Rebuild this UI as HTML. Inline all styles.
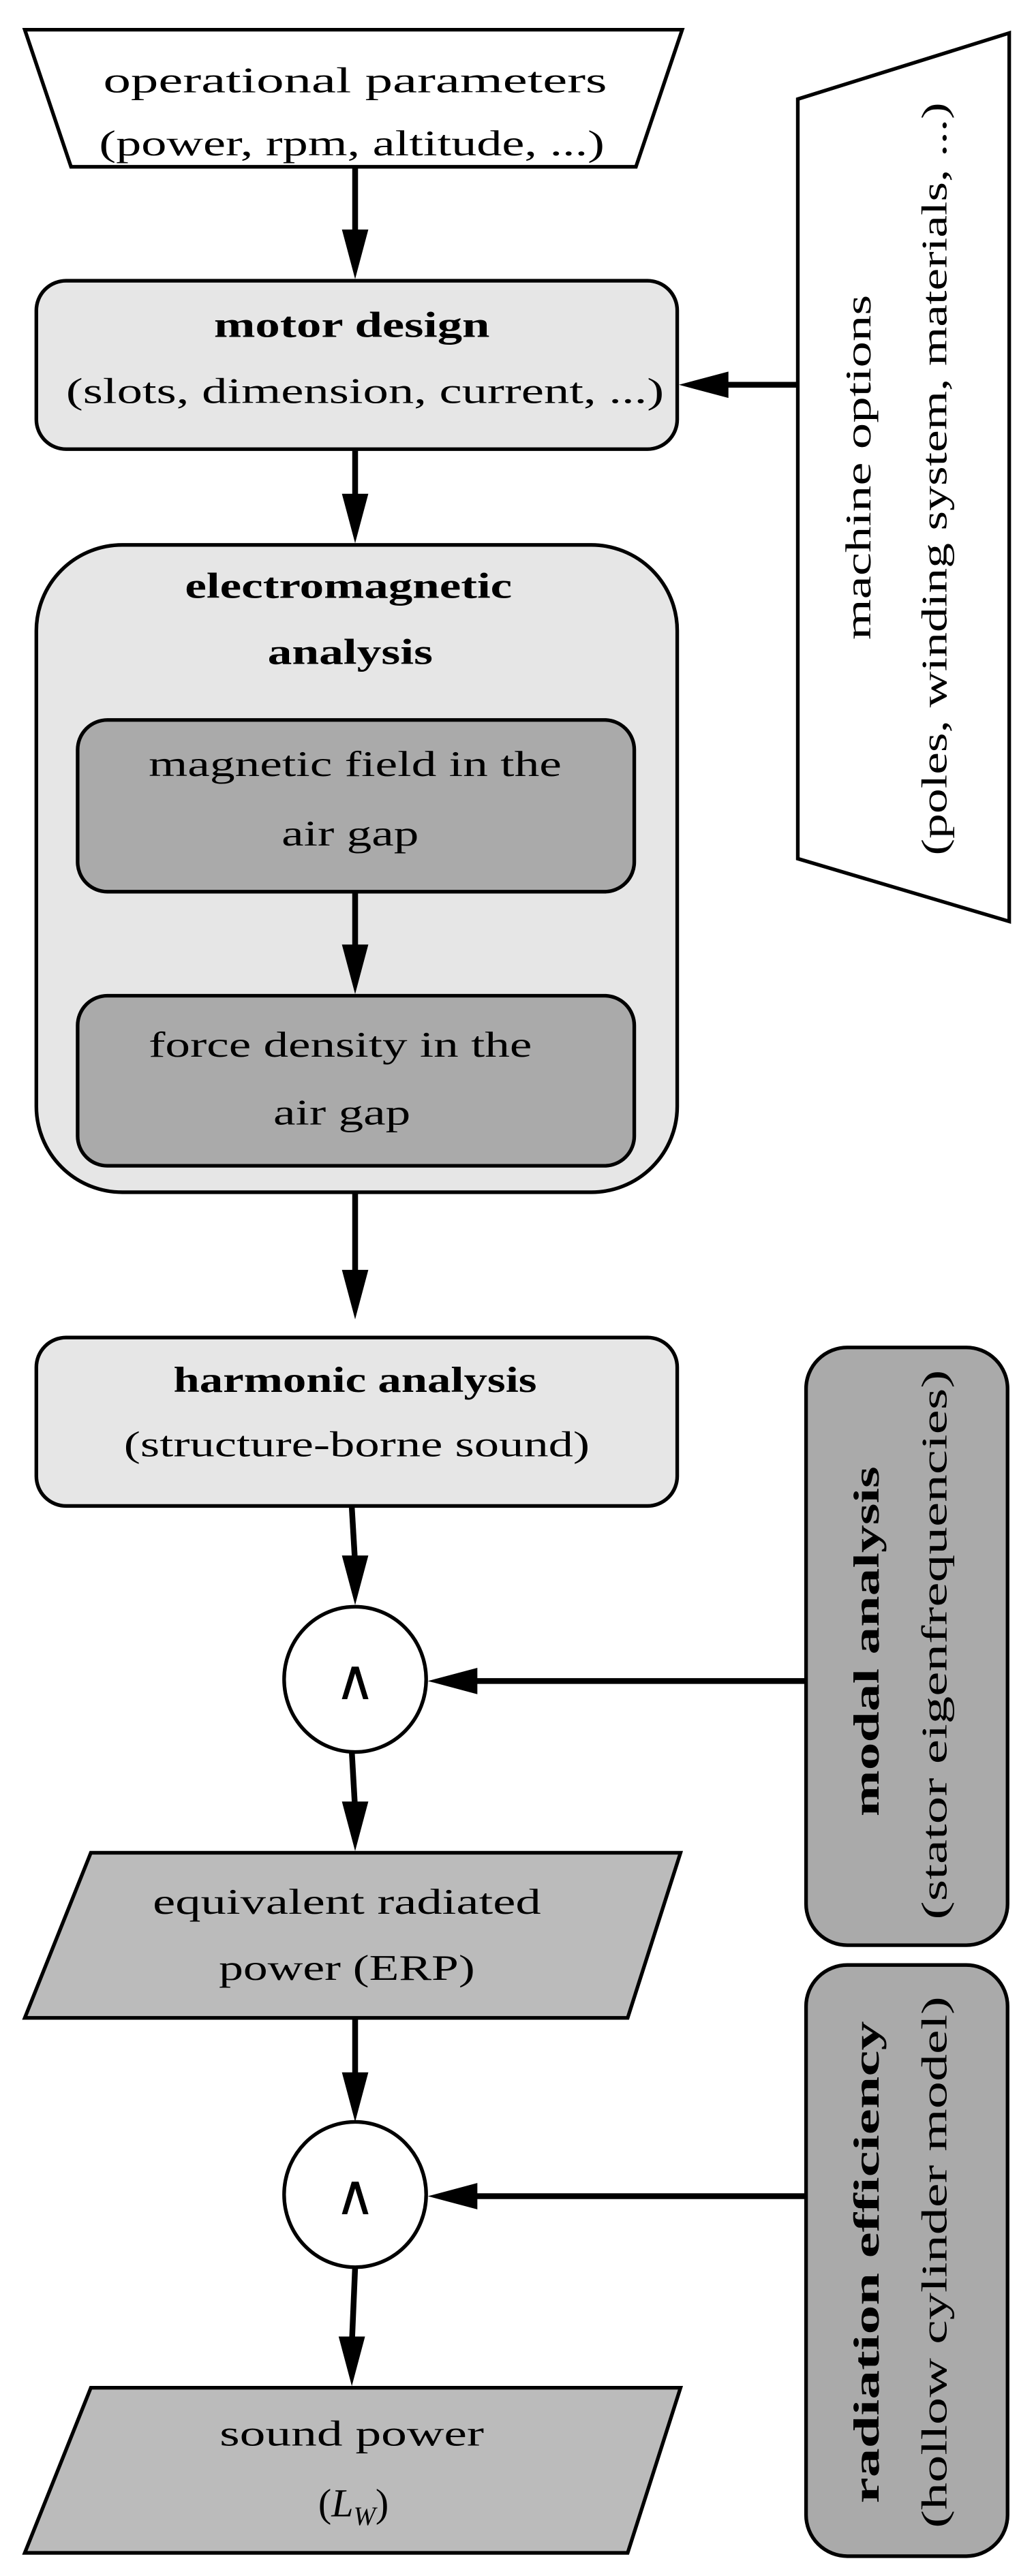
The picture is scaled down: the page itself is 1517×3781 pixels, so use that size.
<!DOCTYPE html>
<html><head><meta charset="utf-8"><style>
html,body{margin:0;padding:0;background:#fff;}
svg{display:block;}
text{font-family:"Liberation Serif",serif;font-size:22px;fill:#000;}
.b{font-weight:bold;}
</style></head><body>
<svg width="1517" height="3781" viewBox="0 0 626 1560" preserveAspectRatio="none" xmlns="http://www.w3.org/2000/svg">
<g stroke="#000" stroke-width="2.2">
<polygon points="15,18 413,18 385,101 43,101" fill="#fff"/>
<rect x="22" y="170" width="388" height="102" rx="18" fill="#e6e6e6"/>
<polygon points="483,60 611,20 611,558 483,520" fill="#fff"/>
<rect x="22" y="330" width="388" height="392" rx="52" fill="#e6e6e6"/>
<rect x="47" y="436" width="337" height="104" rx="18" fill="#aaaaaa"/>
<rect x="47" y="603" width="337" height="103" rx="18" fill="#aaaaaa"/>
<rect x="22" y="810" width="388" height="102" rx="18" fill="#e6e6e6"/>
<ellipse cx="215" cy="1017" rx="43" ry="44" fill="#fff"/>
<ellipse cx="215" cy="1329" rx="43" ry="44" fill="#fff"/>
<rect x="488" y="816" width="122" height="362" rx="25" fill="#aaaaaa"/>
<rect x="488" y="1190" width="122" height="358" rx="25" fill="#aaaaaa"/>
<polygon points="55,1122 412,1122 380,1222 15,1222" fill="#bbbbbb"/>
<polygon points="55,1446 412,1446 380,1546 15,1546" fill="#bbbbbb"/>
</g>
<g stroke="#000" stroke-width="3.5" fill="none">
<line x1="215" y1="102" x2="215" y2="145"/>
<line x1="483" y1="233" x2="435" y2="233"/>
<line x1="215" y1="273" x2="215" y2="305"/>
<line x1="215" y1="541" x2="215" y2="578"/>
<line x1="215" y1="723" x2="215" y2="775"/>
<line x1="213" y1="913" x2="215" y2="947"/>
<line x1="488" y1="1018" x2="283" y2="1018"/>
<line x1="213" y1="1061" x2="215" y2="1096"/>
<line x1="215" y1="1223" x2="215" y2="1260"/>
<line x1="488" y1="1330" x2="283" y2="1330"/>
<line x1="215" y1="1373" x2="213" y2="1420"/>
</g>
<g fill="#000">
<polygon points="207,139 223,139 215,169"/>
<polygon points="441,225 441,241 411,233"/>
<polygon points="207,299 223,299 215,329"/>
<polygon points="207,572 223,572 215,602"/>
<polygon points="207,769 223,769 215,799"/>
<polygon points="207,942 223,942 215,972"/>
<polygon points="289,1010 289,1026 259,1018"/>
<polygon points="207,1091 223,1091 215,1121"/>
<polygon points="207,1255 223,1255 215,1285"/>
<polygon points="289,1322 289,1338 259,1330"/>
<polygon points="205,1415 221,1415 213,1445"/>
</g>
<g text-anchor="middle">
<text x="215" y="56" textLength="305" lengthAdjust="spacingAndGlyphs">operational parameters</text>
<text x="213" y="94" textLength="306" lengthAdjust="spacingAndGlyphs">(power, rpm, altitude, ...)</text>
<text x="213" y="204" class="b" textLength="167" lengthAdjust="spacingAndGlyphs">motor design</text>
<text x="221" y="244" textLength="362" lengthAdjust="spacingAndGlyphs">(slots, dimension, current, ...)</text>
<text x="211" y="362" class="b" textLength="198" lengthAdjust="spacingAndGlyphs">electromagnetic</text>
<text x="212" y="402" class="b" textLength="100" lengthAdjust="spacingAndGlyphs">analysis</text>
<text x="215" y="470" textLength="250" lengthAdjust="spacingAndGlyphs">magnetic field in the</text>
<text x="212" y="512" textLength="83" lengthAdjust="spacingAndGlyphs">air gap</text>
<text x="206" y="640" textLength="232" lengthAdjust="spacingAndGlyphs">force density in the</text>
<text x="207" y="681" textLength="83" lengthAdjust="spacingAndGlyphs">air gap</text>
<text x="215" y="843" class="b" textLength="220" lengthAdjust="spacingAndGlyphs">harmonic analysis</text>
<text x="216" y="882" textLength="282" lengthAdjust="spacingAndGlyphs">(structure-borne sound)</text>
<text x="215" y="1029" style="font-size:34px;font-family:'DejaVu Sans',sans-serif;font-weight:200">∧</text>
<text x="215" y="1341" style="font-size:34px;font-family:'DejaVu Sans',sans-serif;font-weight:200">∧</text>
<text x="210" y="1159" textLength="235" lengthAdjust="spacingAndGlyphs">equivalent radiated</text>
<text x="210" y="1199" textLength="155" lengthAdjust="spacingAndGlyphs">power (ERP)</text>
<text x="213" y="1481" textLength="160" lengthAdjust="spacingAndGlyphs">sound power</text>
<text x="214" y="1524" style="font-size:24px">(<tspan style="font-style:italic">L</tspan><tspan style="font-style:italic;font-size:16px" dy="5">W</tspan><tspan dy="-5">)</tspan></text>
<text transform="translate(527,283) rotate(-90)" textLength="209" lengthAdjust="spacingAndGlyphs">machine options</text>
<text transform="translate(573,290) rotate(-90)" textLength="456" lengthAdjust="spacingAndGlyphs">(poles, winding system, materials, ...)</text>
<text transform="translate(532,994) rotate(-90)" class="b" textLength="212" lengthAdjust="spacingAndGlyphs">modal analysis</text>
<text transform="translate(573,996) rotate(-90)" textLength="333" lengthAdjust="spacingAndGlyphs">(stator eigenfrequencies)</text>
<text transform="translate(532,1370) rotate(-90)" class="b" textLength="292" lengthAdjust="spacingAndGlyphs">radiation efficiency</text>
<text transform="translate(573,1370) rotate(-90)" textLength="322" lengthAdjust="spacingAndGlyphs">(hollow cylinder model)</text>
</g>
</svg>
</body></html>
